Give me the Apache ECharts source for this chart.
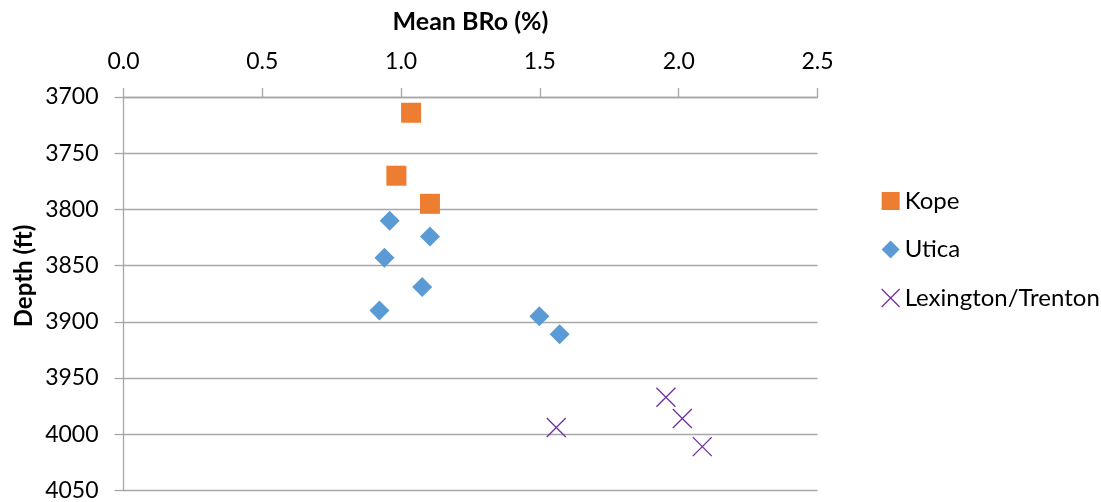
<!DOCTYPE html>
<html>
<head>
<meta charset="utf-8">
<script src="https://cdn.jsdelivr.net/npm/echarts@6/dist/echarts.min.js"></script>
<style>
  html, body { margin: 0; padding: 0; background: #ffffff; }
  #chart { width: 1101px; height: 502px; }
</style>
</head>
<body>
<div id="chart"></div>
<script>
// Mean BRo (%) vs. depth (ft) for three formations
const seriesNames = ['Kope', 'Utica', 'Lexington/Trenton'];

const kopeBro = [1.036, 0.983, 1.104];
const kopeDepth = [3714, 3770, 3795];

const uticaBro = [0.959, 1.104, 0.940, 1.076, 0.922, 1.498, 1.571];
const uticaDepth = [3810, 3824, 3843, 3869, 3890, 3895, 3911];

const lexBro = [1.559, 1.954, 2.013, 2.085];
const lexDepth = [3994, 3967, 3986, 4011];

const xTicks = [0.0, 0.5, 1.0, 1.5, 2.0, 2.5];
const yTicks = [3700, 3750, 3800, 3850, 3900, 3950, 4000, 4050];

const FONT = 'Lato, "Open Sans", sans-serif';
const AXIS_GRAY = '#A6A6A6';
const crossPath = 'path://M0,0L10,10M0,10L10,0';

function pairs(xs, ys) {
  return xs.map((x, i) => [x, ys[i]]);
}

const chart = echarts.init(document.getElementById('chart'), null, { renderer: 'canvas' });

chart.setOption({
  backgroundColor: '#ffffff',
  animation: false,
  textStyle: { fontFamily: FONT },
  grid: { left: 123.5, right: 283.5, top: 97, bottom: 9.5, containLabel: false },
  legend: {
    orient: 'vertical',
    left: 876,
    top: 184,
    itemGap: 24.5,
    itemWidth: 18,
    itemHeight: 18,
    itemStyle: { borderWidth: 0 },
    textStyle: { fontFamily: FONT, fontSize: 24, color: '#000000' },
    data: [
      { name: 'Kope', icon: 'rect', itemStyle: { color: '#ED7D31' } },
      { name: 'Utica', icon: 'diamond', itemStyle: { color: '#5B9BD5' } },
      { name: 'Lexington/Trenton', icon: crossPath,
        itemStyle: { color: 'rgba(0,0,0,0)', borderColor: '#7030A0', borderWidth: 1.3 } }
    ]
  },
  graphic: [
    {
      type: 'text',
      x: 470.5, y: 22,
      style: {
        text: 'Mean BRo (%)', fontFamily: FONT, fontSize: 25, fontWeight: 'bold',
        fill: '#000000', align: 'center', verticalAlign: 'middle'
      }
    },
    {
      type: 'text',
      x: 24, y: 276, rotation: Math.PI / 2,
      style: {
        text: 'Depth (ft)', fontFamily: FONT, fontSize: 24, fontWeight: 'bold',
        fill: '#000000', align: 'center', verticalAlign: 'middle'
      }
    }
  ],
  xAxis: {
    type: 'value',
    position: 'top',
    min: xTicks[0],
    max: xTicks[xTicks.length - 1],
    interval: 0.5,
    axisLine: { show: true, onZero: false, lineStyle: { color: AXIS_GRAY, width: 1.3 } },
    axisTick: { show: true, length: 9, lineStyle: { color: AXIS_GRAY, width: 1.3 } },
    splitLine: { show: false },
    axisLabel: {
      margin: 24, fontFamily: FONT, fontSize: 23, color: '#000000',
      formatter: v => v.toFixed(1)
    }
  },
  yAxis: {
    type: 'value',
    inverse: true,
    min: yTicks[0],
    max: yTicks[yTicks.length - 1],
    interval: 50,
    axisLine: { show: true, onZero: false, lineStyle: { color: AXIS_GRAY, width: 1.3 } },
    axisTick: { show: true, length: 9, lineStyle: { color: AXIS_GRAY, width: 1.3 } },
    splitLine: { show: true, lineStyle: { color: AXIS_GRAY, width: 1.3 } },
    axisLabel: {
      margin: 25, fontFamily: FONT, fontSize: 23, color: '#000000',
      formatter: v => String(v)
    }
  },
  series: [
    {
      name: seriesNames[0], type: 'scatter', symbol: 'rect', symbolSize: 20,
      itemStyle: { color: '#ED7D31', opacity: 1 },
      data: pairs(kopeBro, kopeDepth)
    },
    {
      name: seriesNames[1], type: 'scatter', symbol: 'diamond', symbolSize: 20,
      itemStyle: { color: '#5B9BD5', opacity: 1 },
      data: pairs(uticaBro, uticaDepth)
    },
    {
      name: seriesNames[2], type: 'scatter', symbol: crossPath, symbolSize: 19,
      itemStyle: { color: 'rgba(0,0,0,0)', borderColor: '#7030A0', borderWidth: 1.3, opacity: 1 },
      data: pairs(lexBro, lexDepth)
    }
  ]
});
</script>
</body>
</html>
